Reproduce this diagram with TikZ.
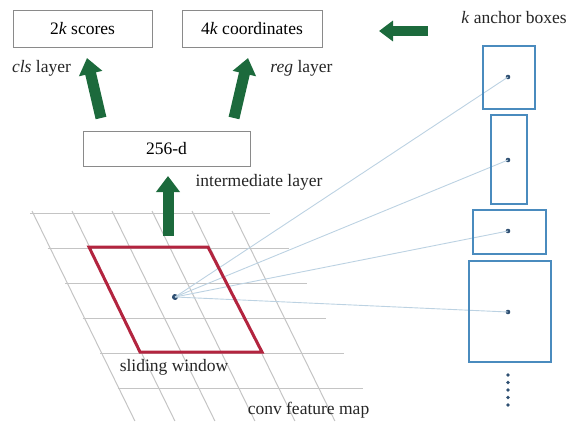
\documentclass[tikz,border=0pt]{standalone}
\usepackage{fontspec}
\setmainfont{Liberation Serif}
\newfontfamily\labelfont{Liberation Serif}
\usetikzlibrary{arrows.meta}
\definecolor{gridgray}{HTML}{C4C4C4}
\definecolor{boxgray}{HTML}{8A8A8A}
\definecolor{fatgreen}{HTML}{1C6A3C}
\definecolor{windowred}{HTML}{B3243F}
\definecolor{anchorblue}{HTML}{4A8BBE}
\definecolor{dotblue}{HTML}{2E4F72}
\definecolor{raycolor}{HTML}{BCD2E2}
\tikzset{
  layerbox/.style={draw=boxgray, line width=0.9pt, inner sep=0pt},
  label/.style={inner sep=0pt, text=black!85},
  fatarrow/.style={draw=fatgreen, line width=11pt, -{Triangle[width=23pt,length=16pt]}},
  gridline/.style={draw=gridgray, line width=1pt},
  window/.style={draw=windowred, line width=3pt, line join=miter},
  ray/.style={draw=raycolor, line width=0.9pt},
  anchorbox/.style={draw=anchorblue, line width=1.3pt, inner sep=0pt},
  anchordot/.style={circle, fill=dotblue, inner sep=0pt, minimum size=4.6pt},
  moredot/.style={circle, fill=dotblue, inner sep=0pt, minimum size=3.6pt}
}
\begin{document}
\begin{tikzpicture}[x=1pt, y=-1pt, font=\labelfont\fontsize{17.5}{20}\selectfont]
\useasboundingbox (0,0) rectangle (571,421);

% conv feature map: slanted grid
\foreach \k in {0,...,5} {
  \pgfmathsetmacro{\yy}{213+35*\k}
  \draw[gridline] ({30+0.5*(\yy-213)},\yy) -- ({270+0.53*(\yy-213)},\yy);
}
\foreach \j in {0,...,5} {
  \draw[gridline] ({32+40*\j},211) -- ({32+40*\j+0.49*210},421);
}

% anchor centres and rays from the window centre
\node[anchordot] (d1) at (508,77) {};
\node[anchordot] (d2) at (508,160) {};
\node[anchordot] (d3) at (508,231) {};
\node[anchordot] (d4) at (508,312) {};
\node[circle, fill=dotblue, inner sep=0pt, minimum width=6pt, minimum height=4pt, rotate=-25] (ctr) at (175,297) {};
\foreach \d in {d1,d2,d3,d4} \draw[ray] (ctr.center) -- (\d.center);

% sliding window
\coordinate (w1) at (89,247);
\coordinate (w2) at (208,247);
\coordinate (w3) at (262,352);
\coordinate (w4) at (140,352);
\draw[window] (w1) -- (w2) -- (w3) -- (w4) -- cycle;

% anchor boxes
\node[anchorbox, minimum width=52pt, minimum height=63pt] (a1) at (509,77.5) {};
\node[anchorbox, minimum width=36pt, minimum height=89pt] (a2) at (509,159.5) {};
\node[anchorbox, minimum width=73pt, minimum height=44pt] (a3) at (509.5,232) {};
\node[anchorbox, minimum width=82pt, minimum height=101pt] (a4) at (510,311.5) {};
\foreach \i/\y in {1/375,2/382.5,3/390,4/397.5,5/405}
  \node[moredot] (m\i) at (508,\y) {};

% layer boxes
\node[layerbox, minimum width=139pt, minimum height=37pt] (scores) at (82.5,28.5) {2\textit{k} scores};
\node[layerbox, minimum width=140pt, minimum height=37pt] (coords) at (252,28.5) {4\textit{k} coordinates};
\node[layerbox, minimum width=167pt, minimum height=35pt] (inter) at (166.5,148.5) {256-d};

% fat arrows
\coordinate (clsfrom) at (101,118);
\coordinate (clsto) at (87,58);
\coordinate (regfrom) at (234,118);
\coordinate (regto) at (248,58);
\coordinate (midfrom) at (168,236);
\coordinate (midto) at (168,176);
\coordinate (anchfrom) at (428,31);
\coordinate (anchto) at (379,31);
\draw[fatarrow] (clsfrom) -- (clsto);
\draw[fatarrow] (regfrom) -- (regto);
\draw[fatarrow] (midfrom) -- (midto);
\draw[fatarrow, line width=10pt, -{Triangle[width=20pt,length=14pt]}] (anchfrom) -- (anchto);

% labels
\node[label] (clsl) at (41.5,68) {\textit{cls} layer};
\node[label] (regl) at (301.5,68) {\textit{reg} layer};
\node[label] (interl) at (259,182) {intermediate layer};
\node[label] (slidel) at (174,367) {sliding window};
\node[label] (convl) at (308.5,410) {conv feature map};
\node[label] (anchl) at (514,18) {\textit{k} anchor boxes};
\end{tikzpicture}
\end{document}
